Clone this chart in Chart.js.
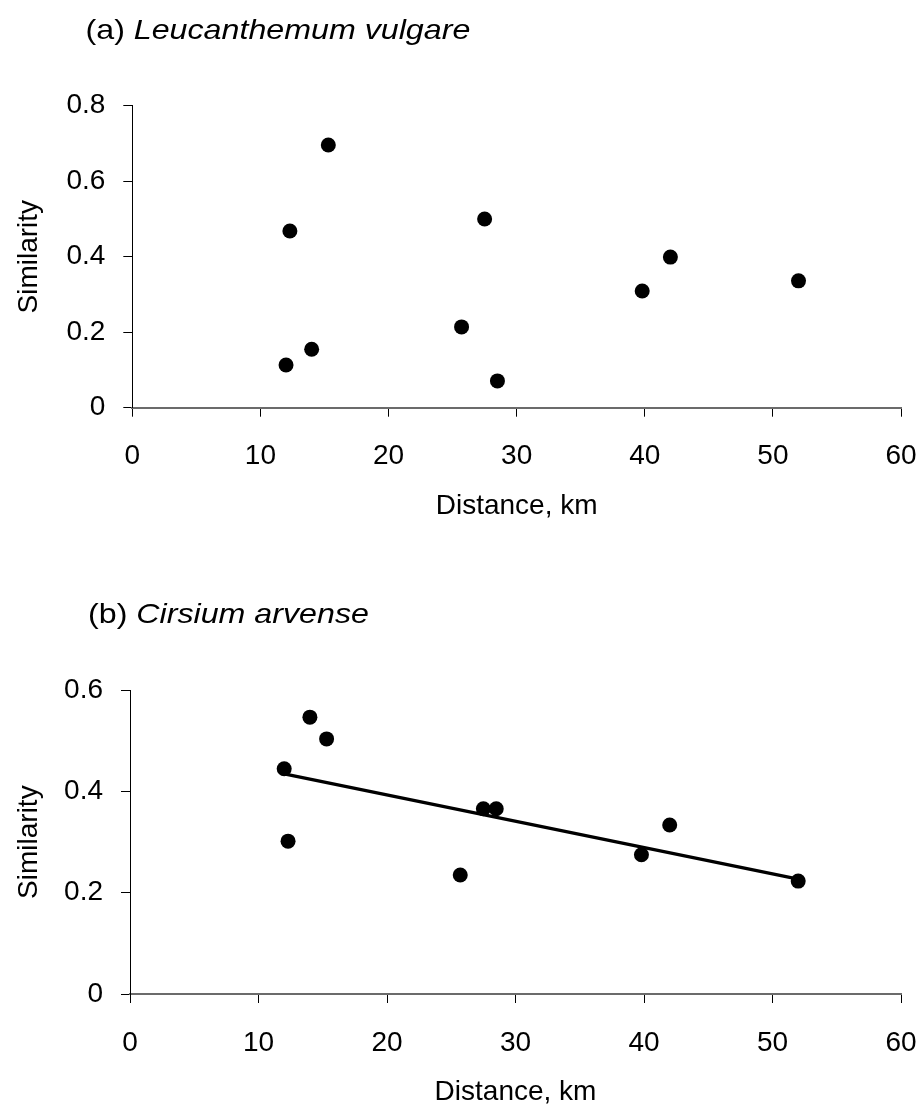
<!DOCTYPE html>
<html>
<head>
<meta charset="utf-8">
<title>Similarity vs distance</title>
<script src="https://cdn.jsdelivr.net/npm/chart.js@4.4.1/dist/chart.umd.min.js"></script>
<style>
  html, body { margin: 0; padding: 0; background: #ffffff; }
  #wrap { position: relative; width: 922px; height: 1110px; }
  canvas { display: block; }
</style>
</head>
<body>
<div id="wrap">
  <canvas id="chartA" width="922" height="555"></canvas>
  <canvas id="chartB" width="922" height="555"></canvas>
</div>
<script>
// ---- data ----
const distances    = [12, 12.3, 14, 15.3, 25.7, 27.5, 28.5, 39.8, 42, 52];
const similarityA  = [0.113, 0.468, 0.155, 0.696, 0.214, 0.500, 0.071, 0.309, 0.399, 0.336];
const similarityB  = [0.445, 0.302, 0.547, 0.504, 0.235, 0.366, 0.366, 0.275, 0.334, 0.223];
const fitDistance  = [12, 52];
const fitSimilarityB = [0.435, 0.227];
const xTicks  = [0, 10, 20, 30, 40, 50, 60];
const yTicksA = [0, 0.2, 0.4, 0.6, 0.8];
const yTicksB = [0, 0.2, 0.4, 0.6];
const panelLabels = ['(a) ', '(b) '];
const speciesNames = ['Leucanthemum vulgare', 'Cirsium arvense'];
const xTitle = 'Distance, km';
const yTitle = 'Similarity';

const FONT = '"Liberation Sans", Arial, Helvetica, sans-serif';
const FS = 28;

function pts(xs, ys) { return xs.map((x, i) => ({ x: x, y: ys[i] })); }

const panelTitle = {
  id: 'panelTitle',
  afterDraw(chart, args, opts) {
    const ctx = chart.ctx;
    ctx.save();
    ctx.fillStyle = '#000';
    ctx.textBaseline = 'alphabetic';
    ctx.textAlign = 'left';
    ctx.translate(opts.x, opts.y);
    ctx.scale(1.15, 1);
    ctx.font = FS + 'px ' + FONT;
    ctx.fillText(opts.label, 0, 0);
    const w = ctx.measureText(opts.label).width;
    ctx.font = 'italic ' + FS + 'px ' + FONT;
    ctx.fillText(opts.species, w, 0);
    ctx.restore();
  }
};

function makeConfig(cfg) {
  const datasets = [];
  if (cfg.fit) {
    datasets.push({
      type: 'line',
      data: pts(cfg.fit[0], cfg.fit[1]),
      borderColor: '#000',
      borderWidth: 3.2,
      pointRadius: 0,
      fill: false,
      tension: 0,
      order: 2
    });
  }
  datasets.push({
    type: 'scatter',
    data: pts(distances, cfg.y),
    backgroundColor: '#000',
    borderColor: '#000',
    borderWidth: 0,
    pointRadius: 7.5,
    pointHoverRadius: 7.5,
    order: 1
  });
  return {
    type: 'scatter',
    data: { datasets: datasets },
    plugins: [panelTitle],
    options: {
      responsive: false,
      animation: false,
      events: [],
      layout: { padding: { top: cfg.top, left: 0, right: 21, bottom: 0 } },
      plugins: {
        legend: { display: false },
        tooltip: { enabled: false },
        panelTitle: { x: cfg.titleX, y: cfg.titleY, label: cfg.label, species: cfg.species }
      },
      scales: {
        x: {
          type: 'linear',
          min: 0, max: 60,
          afterBuildTicks: s => { s.ticks = xTicks.map(v => ({ value: v })); },
          afterFit: s => { s.height = cfg.xHeight; s.paddingLeft = 0; s.paddingRight = 0; },
          grid: { display: true, drawOnChartArea: false, drawTicks: true, tickLength: 9, color: '#000', lineWidth: 1 },
          border: { display: true, color: '#6b6b6b', width: 2 },
          ticks: { color: '#000', font: { family: FONT, size: FS }, padding: 23, maxRotation: 0, autoSkip: false, callback: v => String(v) },
          title: { display: true, text: xTitle, color: '#000', font: { family: FONT, size: FS }, padding: { top: 0, bottom: cfg.xTitlePad } }
        },
        y: {
          type: 'linear',
          min: 0, max: cfg.yMax,
          afterBuildTicks: s => { s.ticks = cfg.yTicks.map(v => ({ value: v })); },
          afterFit: s => { s.width = cfg.left; },
          grid: { display: true, drawOnChartArea: false, drawTicks: true, tickLength: 9, color: '#000', lineWidth: 1 },
          border: { display: true, color: '#000', width: 1 },
          ticks: { color: '#000', font: { family: FONT, size: FS }, padding: 18, autoSkip: false, callback: v => String(v) },
          title: { display: true, text: yTitle, color: '#000', font: { family: FONT, size: FS }, padding: { top: 12, bottom: 0 } }
        }
      }
    }
  };
}

new Chart(document.getElementById('chartA'), makeConfig({
  y: similarityA, yMax: 0.8, yTicks: yTicksA,
  top: 105.7, left: 132.3, xHeight: 147.3, xTitlePad: 31.5,
  titleX: 85.5, titleY: 39, label: panelLabels[0], species: speciesNames[0]
}));

new Chart(document.getElementById('chartB'), makeConfig({
  y: similarityB, yMax: 0.6, yTicks: yTicksB,
  top: 135.3, left: 130, xHeight: 116, xTitlePad: 0.5,
  fit: [fitDistance, fitSimilarityB],
  titleX: 88, titleY: 68.3, label: panelLabels[1], species: speciesNames[1]
}));
</script>
</body>
</html>
